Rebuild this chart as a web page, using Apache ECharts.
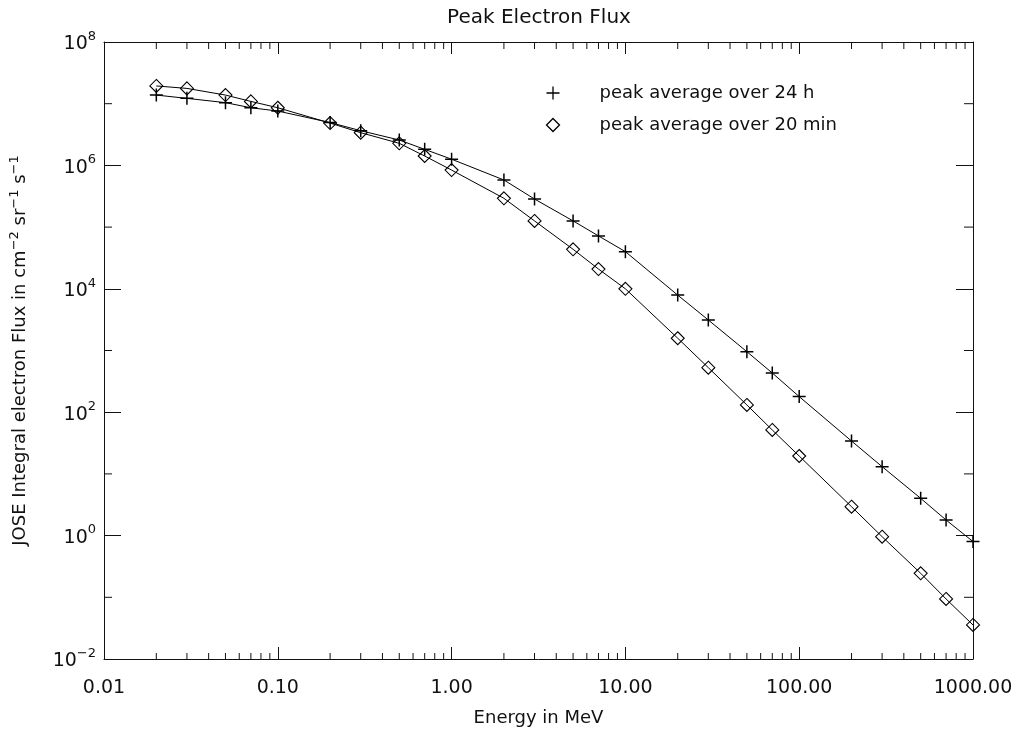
<!DOCTYPE html>
<html>
<head>
<meta charset="utf-8">
<script src="https://cdn.jsdelivr.net/npm/echarts@6/dist/echarts.min.js"></script>
<style>
html,body{margin:0;padding:0;background:#fff;}
#chart{width:1024px;height:729px;}
</style>
</head>
<body>
<div id="chart"></div>
<script>
// ---- data ----
const energy = [0.02,0.03,0.05,0.07,0.1,0.2,0.3,0.5,0.7,1,2,3,5,7,10,20,30,50,70,100,200,300,500,700,1000];
const flux24h = [1.38e7,1.22e7,1.04e7,8.6e6,7.6e6,4.95e6,3.65e6,2.58e6,1.82e6,1.26e6,5.8e5,2.85e5,1.26e5,7.2e4,4.0e4,7.9e3,3.12e3,957,432,179,34.1,13.1,4.02,1.79,0.80];
const flux20min = [1.94e7,1.77e7,1.38e7,1.09e7,8.6e6,4.85e6,3.39e6,2.28e6,1.42e6,8.4e5,2.93e5,1.26e5,4.37e4,2.09e4,1.0e4,1.58e3,527,131,51.5,19.5,2.94,0.96,0.245,0.094,0.0356];
const seriesNames = ['peak average over 24 h', 'peak average over 20 min'];
const xMinorTicks = [0.02,0.03,0.04,0.05,0.06,0.07,0.08,0.09,0.2,0.3,0.4,0.5,0.6,0.7,0.8,0.9,2,3,4,5,6,7,8,9,20,30,40,50,60,70,80,90,200,300,400,500,600,700,800,900];
const yMinorTicks = [0.1,10,1000,1e5,1e7];
const xMin = 0.01, xMax = 1000, yMin = 0.01, yMax = 1e8;

const FONT = 'DejaVu Sans';
const TXT = '#111';
const PLUS = 'path://M0,5L10,5M5,0L5,10';

const chart = echarts.init(document.getElementById('chart'), null, {renderer:'canvas'});

function pair(xs, ys){ return xs.map((x,i)=>[x, ys[i]]); }

const axisLineStyle = {color:'#111', width:1};

const option = {
  animation:false,
  backgroundColor:'#fff',
  title:{
    text:'Peak Electron Flux',
    left:534, top:3, textAlign:'center',
    textStyle:{fontFamily:FONT, fontSize:20, fontWeight:'normal', color:TXT}
  },
  legend:{
    orient:'vertical', left:539, top:79,
    itemWidth:13, itemHeight:13, itemGap:14,
    data:[{name:seriesNames[0], icon:PLUS},{name:seriesNames[1], icon:'diamond'}],
    itemStyle:{color:'none', borderColor:'#000', borderWidth:1.3},
    textStyle:{fontFamily:FONT, fontSize:18, color:TXT, padding:[4,0,0,35]}
  },
  grid:{left:104, right:51, top:42, bottom:70, containLabel:false, outerBoundsMode:'none'},
  xAxis:[{
    type:'log', logBase:10, min:xMin, max:xMax, interval:1, position:'bottom',
    name:'Energy in MeV', nameLocation:'middle', nameGap:50,
    nameTextStyle:{fontFamily:FONT, fontSize:18, color:TXT},
    axisLine:{show:true, lineStyle:axisLineStyle},
    axisTick:{show:true, inside:true, length:12, lineStyle:axisLineStyle},
    axisLabel:{fontFamily:FONT, fontSize:19, color:TXT, margin:20,
      formatter:v=>Number(v).toFixed(2), showMinLabel:true, showMaxLabel:true},
    splitLine:{show:false}
  },{
    type:'log', logBase:10, min:xMin, max:xMax, interval:1, position:'top',
    axisLine:{show:true, lineStyle:axisLineStyle},
    axisTick:{show:true, inside:true, length:12, lineStyle:axisLineStyle},
    axisLabel:{show:false}, splitLine:{show:false}
  }],
  yAxis:[{
    type:'log', logBase:10, min:yMin, max:yMax, interval:2, position:'left',
    name:'JOSE Integral electron Flux in cm{s|−2} sr{s|−1} s{s|−1}',
    nameLocation:'middle', nameGap:72,
    nameTextStyle:{fontFamily:FONT, fontSize:18, color:TXT, lineHeight:24,
      rich:{s:{fontFamily:FONT, fontSize:13, color:TXT, verticalAlign:'top', lineHeight:24}}},
    axisLine:{show:true, lineStyle:axisLineStyle},
    axisTick:{show:true, inside:true, length:17, lineStyle:axisLineStyle},
    axisLabel:{margin:8, color:TXT,
      formatter:v=>{const e=Math.round(Math.log10(v)); return '{b|10}{s|'+(e<0?'−'+(-e):e)+'}';},
      rich:{
        b:{fontFamily:FONT, fontSize:19, color:TXT, lineHeight:24, verticalAlign:'bottom'},
        s:{fontFamily:FONT, fontSize:13, color:TXT, lineHeight:24, verticalAlign:'top'}
      }},
    splitLine:{show:false}
  },{
    type:'log', logBase:10, min:yMin, max:yMax, interval:2, position:'right',
    axisLine:{show:true, lineStyle:axisLineStyle},
    axisTick:{show:true, inside:true, length:17, lineStyle:axisLineStyle},
    axisLabel:{show:false}, splitLine:{show:false}
  }],
  series:[
    {
      name:seriesNames[0], type:'line', xAxisIndex:0, yAxisIndex:0,
      data:pair(energy, flux24h), clip:false,
      symbol:PLUS, symbolSize:13, showSymbol:true,
      lineStyle:{color:'#000', width:1},
      itemStyle:{color:'none', borderColor:'#000', borderWidth:1.5},
      emphasis:{disabled:true}, z:3
    },
    {
      name:seriesNames[1], type:'line', xAxisIndex:0, yAxisIndex:0,
      data:pair(energy, flux20min), clip:false,
      symbol:'diamond', symbolSize:13, showSymbol:true,
      lineStyle:{color:'#000', width:1},
      itemStyle:{color:'none', borderColor:'#000', borderWidth:1.1},
      emphasis:{disabled:true}, z:3
    },
    {
      type:'custom', xAxisIndex:0, yAxisIndex:0, silent:true, clip:false,
      data:xMinorTicks.map(v=>[v, yMin]),
      renderItem:(params, api)=>{
        const v = api.value(0);
        const b = api.coord([v, yMin]);
        const t = api.coord([v, yMax]);
        return {type:'group', children:[
          {type:'line', shape:{x1:b[0], y1:b[1], x2:b[0], y2:b[1]-6}, style:{stroke:'#111', lineWidth:1}},
          {type:'line', shape:{x1:t[0], y1:t[1], x2:t[0], y2:t[1]+7}, style:{stroke:'#111', lineWidth:1}}
        ]};
      }
    },
    {
      type:'custom', xAxisIndex:0, yAxisIndex:0, silent:true, clip:false,
      data:yMinorTicks.map(v=>[xMin, v]),
      renderItem:(params, api)=>{
        const v = api.value(1);
        const l = api.coord([xMin, v]);
        const r = api.coord([xMax, v]);
        return {type:'group', children:[
          {type:'line', shape:{x1:l[0], y1:l[1], x2:l[0]+8, y2:l[1]}, style:{stroke:'#111', lineWidth:1}},
          {type:'line', shape:{x1:r[0], y1:r[1], x2:r[0]-9, y2:r[1]}, style:{stroke:'#111', lineWidth:1}}
        ]};
      }
    }
  ]
};
chart.setOption(option);
</script>
</body>
</html>
